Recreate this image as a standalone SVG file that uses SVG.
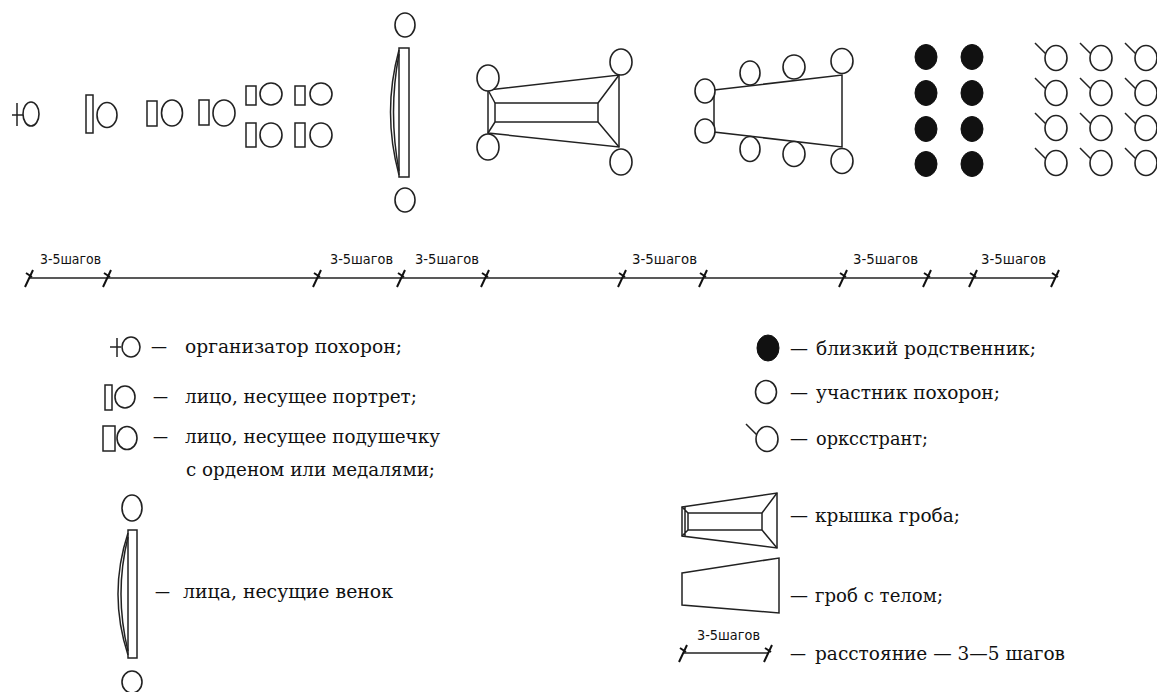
<svg xmlns="http://www.w3.org/2000/svg" width="1157" height="692" viewBox="0 0 1157 692">
<style>
.s{fill:#fff;stroke:#222;stroke-width:1.6}
.n{fill:none;stroke:#222;stroke-width:1.5}
.b{fill:#111;stroke:#111;stroke-width:1}
.t{font-family:"DejaVu Serif","Liberation Serif",serif;font-size:18.5px;fill:#111}
.k{font-family:"DejaVu Sans Condensed","DejaVu Sans","Liberation Sans",sans-serif;font-size:14.5px;fill:#111}
.tk{fill:none;stroke:#111;stroke-width:2}
</style>
<defs>
<g id="orch"><line class="n" x1="-21" y1="-15" x2="-9" y2="-3"/><ellipse class="s" rx="11" ry="12.5"/></g>
<path id="tick" class="tk" d="M-4,9 L4,-8 M-3,-5 L3,-1"/>
</defs>
<rect width="1157" height="692" fill="#fff"/>

<g id="organizer">
<line class="n" x1="12" y1="115" x2="23" y2="115"/>
<line class="n" x1="17" y1="103" x2="17" y2="126"/>
<ellipse class="s" cx="31" cy="114" rx="8" ry="12"/>
</g>
<g id="portrait">
<rect class="n" x="86" y="95" width="7" height="38"/>
<ellipse class="s" cx="107" cy="115" rx="10" ry="12.5"/>
</g>
<g id="cushion1">
<rect class="n" x="147" y="101" width="10" height="25"/>
<ellipse class="s" cx="172" cy="113" rx="10.5" ry="13"/>
</g>
<g id="cushion2">
<rect class="n" x="199" y="100" width="10" height="25"/>
<ellipse class="s" cx="224" cy="113" rx="11" ry="13"/>
</g>
<g id="cushions4">
<rect class="n" x="246" y="86" width="10" height="19"/>
<ellipse class="s" cx="271" cy="94" rx="11" ry="11"/>
<rect class="n" x="295" y="86" width="10" height="19"/>
<ellipse class="s" cx="321" cy="94" rx="11" ry="11"/>
<rect class="n" x="246" y="123" width="10" height="24"/>
<ellipse class="s" cx="271" cy="135" rx="11" ry="12"/>
<rect class="n" x="295" y="123" width="10" height="24"/>
<ellipse class="s" cx="321" cy="135" rx="11" ry="12"/>
</g>
<g id="wreath">
<ellipse class="s" cx="405" cy="25" rx="10" ry="12"/>
<path class="n" d="M399,50 Q382,112 399,175"/>
<path class="n" d="M399,54 Q388,112 399,171"/>
<rect class="n" x="399" y="48" width="10" height="129"/>
<ellipse class="s" cx="405" cy="200" rx="10" ry="12"/>
</g>
<g id="coffin-lid">
<polygon class="n" points="488,90 619,75 619,147 488,133"/>
<rect class="n" x="495" y="103" width="103" height="19"/>
<path class="n" d="M495,103 L488,90 M495,122 L488,133 M598,103 L619,75 M598,122 L619,147"/>
<ellipse class="s" cx="488" cy="78" rx="11" ry="13"/>
<ellipse class="s" cx="488" cy="147" rx="11" ry="13"/>
<ellipse class="s" cx="621" cy="62" rx="11" ry="13"/>
<ellipse class="s" cx="621" cy="162" rx="11" ry="13"/>
</g>
<g id="coffin">
<polygon class="n" points="714,90 842,75 842,147 714,132"/>
<ellipse class="s" cx="705" cy="91" rx="10" ry="12"/>
<ellipse class="s" cx="705" cy="131" rx="10" ry="12"/>
<ellipse class="s" cx="750" cy="73" rx="10" ry="12"/>
<ellipse class="s" cx="750" cy="149" rx="10" ry="12.5"/>
<ellipse class="s" cx="794" cy="67" rx="11" ry="12"/>
<ellipse class="s" cx="794" cy="154" rx="11" ry="12.5"/>
<ellipse class="s" cx="842" cy="61" rx="11" ry="12.5"/>
<ellipse class="s" cx="842" cy="161" rx="11" ry="12.5"/>
</g>
<g id="relatives">
<ellipse class="b" cx="926" cy="57" rx="11" ry="12.5"/>
<ellipse class="b" cx="972" cy="57" rx="11" ry="12.5"/>
<ellipse class="b" cx="926" cy="93" rx="11" ry="12.5"/>
<ellipse class="b" cx="972" cy="93" rx="11" ry="12.5"/>
<ellipse class="b" cx="926" cy="129" rx="11" ry="12.5"/>
<ellipse class="b" cx="972" cy="129" rx="11" ry="12.5"/>
<ellipse class="b" cx="926" cy="164" rx="11" ry="12.5"/>
<ellipse class="b" cx="972" cy="164" rx="11" ry="12.5"/>
</g>
<g id="orchestra">
<use href="#orch" x="1056" y="58"/><use href="#orch" x="1101" y="58"/><use href="#orch" x="1146" y="58"/>
<use href="#orch" x="1056" y="93"/><use href="#orch" x="1101" y="93"/><use href="#orch" x="1146" y="93"/>
<use href="#orch" x="1056" y="128"/><use href="#orch" x="1101" y="128"/><use href="#orch" x="1146" y="128"/>
<use href="#orch" x="1056" y="163"/><use href="#orch" x="1101" y="163"/><use href="#orch" x="1146" y="163"/>
</g>

<g id="connectors">
<line x1="29" y1="278" x2="1055" y2="278" stroke="#222" stroke-width="1.6"/>
<use href="#tick" x="29" y="278"/><use href="#tick" x="107" y="278"/>
<use href="#tick" x="317" y="278"/><use href="#tick" x="401" y="278"/>
<use href="#tick" x="485" y="278"/><use href="#tick" x="622" y="278"/>
<use href="#tick" x="703" y="278"/><use href="#tick" x="843" y="278"/>
<use href="#tick" x="927" y="278"/><use href="#tick" x="973" y="278"/>
<use href="#tick" x="1055" y="278"/>
</g>
<g id="scale-labels">
<text class="k" x="40" y="264" textLength="61" lengthAdjust="spacingAndGlyphs">3-5шагов</text>
<text class="k" x="330" y="264" textLength="63" lengthAdjust="spacingAndGlyphs">3-5шагов</text>
<text class="k" x="415" y="264" textLength="64" lengthAdjust="spacingAndGlyphs">3-5шагов</text>
<text class="k" x="632" y="264" textLength="65" lengthAdjust="spacingAndGlyphs">3-5шагов</text>
<text class="k" x="853" y="264" textLength="65" lengthAdjust="spacingAndGlyphs">3-5шагов</text>
<text class="k" x="981" y="264" textLength="65" lengthAdjust="spacingAndGlyphs">3-5шагов</text>
</g>

<g id="legend-organizer">
<line class="n" x1="110" y1="347" x2="121" y2="347"/>
<line class="n" x1="117" y1="338" x2="117" y2="357"/>
<ellipse class="s" cx="131" cy="347" rx="9" ry="10"/>
<text class="t" x="151" y="353" textLength="16" lengthAdjust="spacingAndGlyphs">—</text>
<text class="t" x="185" y="353" textLength="217" lengthAdjust="spacingAndGlyphs">организатор похорон;</text>
</g>
<g id="legend-portrait">
<rect class="n" x="105" y="385" width="7" height="25"/>
<ellipse class="s" cx="125" cy="397" rx="10" ry="11"/>
<text class="t" x="153" y="403" textLength="15" lengthAdjust="spacingAndGlyphs">—</text>
<text class="t" x="185" y="403" textLength="232" lengthAdjust="spacingAndGlyphs">лицо, несущее портрет;</text>
</g>
<g id="legend-cushion">
<rect class="n" x="103" y="426" width="12" height="25"/>
<ellipse class="s" cx="127" cy="438" rx="10" ry="11.5"/>
<text class="t" x="153" y="443" textLength="15" lengthAdjust="spacingAndGlyphs">—</text>
<text class="t" x="185" y="443" textLength="255" lengthAdjust="spacingAndGlyphs">лицо, несущее подушечку</text>
<text class="t" x="186" y="476" textLength="249" lengthAdjust="spacingAndGlyphs">с орденом или медалями;</text>
</g>
<g id="legend-wreath">
<ellipse class="s" cx="132" cy="508" rx="10" ry="13"/>
<path class="n" d="M128,533 Q108,594 128,655"/>
<path class="n" d="M128,537 Q114,594 128,651"/>
<rect class="n" x="128" y="530" width="9" height="128"/>
<ellipse class="s" cx="132" cy="682" rx="10" ry="11"/>
<text class="t" x="155" y="598" textLength="15" lengthAdjust="spacingAndGlyphs">—</text>
<text class="t" x="183" y="598" textLength="210" lengthAdjust="spacingAndGlyphs">лица, несущие венок</text>
</g>
<g id="legend-relative">
<ellipse class="b" cx="768" cy="348" rx="11" ry="13"/>
<text class="t" x="790" y="355" textLength="18" lengthAdjust="spacingAndGlyphs">—</text>
<text class="t" x="816" y="355" textLength="220" lengthAdjust="spacingAndGlyphs">близкий родственник;</text>
</g>
<g id="legend-participant">
<ellipse class="s" cx="766" cy="392" rx="10.5" ry="11.5"/>
<text class="t" x="790" y="399" textLength="18" lengthAdjust="spacingAndGlyphs">—</text>
<text class="t" x="816" y="399" textLength="184" lengthAdjust="spacingAndGlyphs">участник похорон;</text>
</g>
<g id="legend-musician">
<use href="#orch" x="767" y="439"/>
<text class="t" x="790" y="445" textLength="18" lengthAdjust="spacingAndGlyphs">—</text>
<text class="t" x="816" y="445" textLength="112" lengthAdjust="spacingAndGlyphs">орксстрант;</text>
</g>
<g id="legend-lid">
<polygon class="n" points="682,507 777,493 777,548 682,536"/>
<rect class="n" x="688" y="513" width="74" height="17"/>
<path class="n" d="M688,513 L682,507 M688,530 L682,536 M762,513 L777,493 M762,530 L777,548 M685,507 L685,536"/>
<text class="t" x="790" y="522" textLength="18" lengthAdjust="spacingAndGlyphs">—</text>
<text class="t" x="815" y="522" textLength="145" lengthAdjust="spacingAndGlyphs">крышка гроба;</text>
</g>
<g id="legend-coffin">
<polygon class="n" points="682,573 779,558 779,613 682,605"/>
<text class="t" x="790" y="602" textLength="18" lengthAdjust="spacingAndGlyphs">—</text>
<text class="t" x="815" y="602" textLength="128" lengthAdjust="spacingAndGlyphs">гроб с телом;</text>
</g>
<g id="legend-distance">
<text class="k" x="697" y="640" textLength="63" lengthAdjust="spacingAndGlyphs">3-5шагов</text>
<line x1="683" y1="653" x2="768" y2="653" stroke="#222" stroke-width="1.5"/>
<use href="#tick" x="683" y="653"/><use href="#tick" x="768" y="653"/>
<text class="t" x="790" y="660" textLength="16" lengthAdjust="spacingAndGlyphs">—</text>
<text class="t" x="815" y="660" textLength="250" lengthAdjust="spacingAndGlyphs">расстояние — 3—5 шагов</text>
</g>
</svg>
